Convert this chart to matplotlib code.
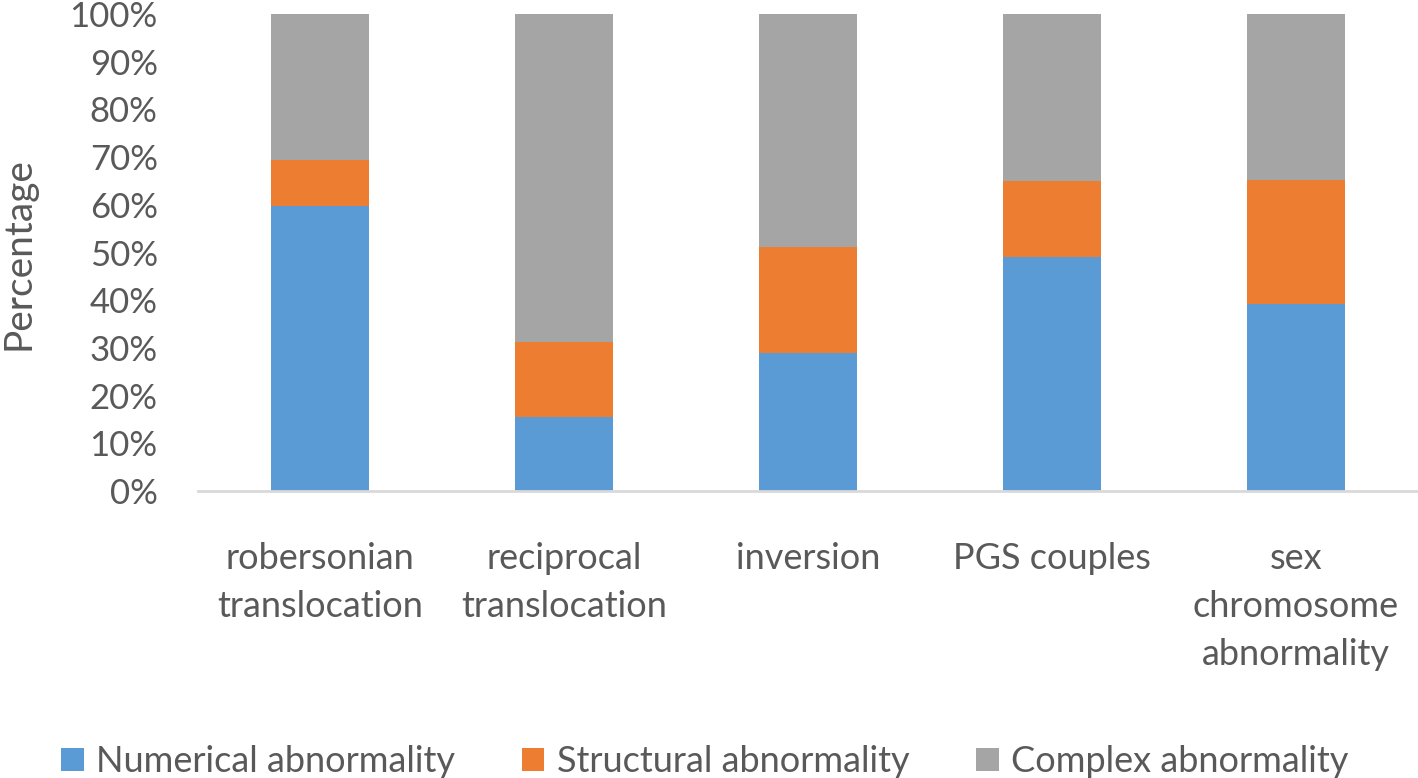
import matplotlib.pyplot as plt
import numpy as np
from matplotlib.patches import Patch

plt.rcParams["font.family"] = ["Lato", "DejaVu Sans"]

# Data (percent of each group)
categories = [
    "robersonian\ntranslocation",
    "reciprocal\ntranslocation",
    "inversion",
    "PGS couples",
    "sex\nchromosome\nabnormality",
]
numerical = [59.8, 15.6, 28.9, 49.0, 39.1]
structural = [9.5, 15.6, 22.3, 16.0, 26.1]
complex_ = [30.7, 68.8, 48.8, 35.0, 34.8]
series_names = ["Numerical abnormality", "Structural abnormality", "Complex abnormality"]
colors = ["#5B9BD5", "#ED7D31", "#A5A5A5"]
text_color = "#595959"

fig = plt.figure(figsize=(14.18, 7.78), dpi=100)
ax = fig.add_axes([198 / 1418, 1 - 491 / 778, 1220 / 1418, 477 / 778])

x = np.arange(len(categories))
num = np.array(numerical) / 100
stru = np.array(structural) / 100
comp = np.array(complex_) / 100
width = 0.40
ax.bar(x, num, width, color=colors[0], linewidth=0)
ax.bar(x, stru, width, bottom=num, color=colors[1], linewidth=0)
ax.bar(x, comp, width, bottom=num + stru, color=colors[2], linewidth=0)

ax.set_xlim(-0.5, len(categories) - 0.5)
ax.set_ylim(0, 1)
ticks = np.arange(0, 1.01, 0.1)
ax.set_yticks(ticks)
ax.set_yticklabels([f"{int(round(v * 100))}%" for v in ticks])
ax.set_xticks(x)
ax.set_xticklabels(categories, linespacing=1.55)
ax.tick_params(axis="y", length=0, pad=29, labelsize=25, labelcolor=text_color)
ax.tick_params(axis="x", length=0, pad=37, labelsize=26, labelcolor=text_color)

for side in ["top", "right", "left"]:
    ax.spines[side].set_visible(False)
ax.spines["bottom"].set_color("#D9D9D9")
ax.spines["bottom"].set_linewidth(2)

ax.set_ylabel("Percentage", fontsize=28, color=text_color)
ax.yaxis.set_label_coords((36 - 198) / 1220, 0.498)

handles = [Patch(facecolor=c, edgecolor="none") for c in colors]
fig.legend(
    handles,
    series_names,
    loc="lower center",
    bbox_to_anchor=(705 / 1418, -0.019),
    ncol=3,
    frameon=False,
    fontsize=26,
    labelcolor=text_color,
    handlelength=0.62,
    handleheight=0.62,
    handletextpad=0.35,
    columnspacing=1.85,
    borderaxespad=0.0,
)

fig.savefig("out.png", dpi=100)
